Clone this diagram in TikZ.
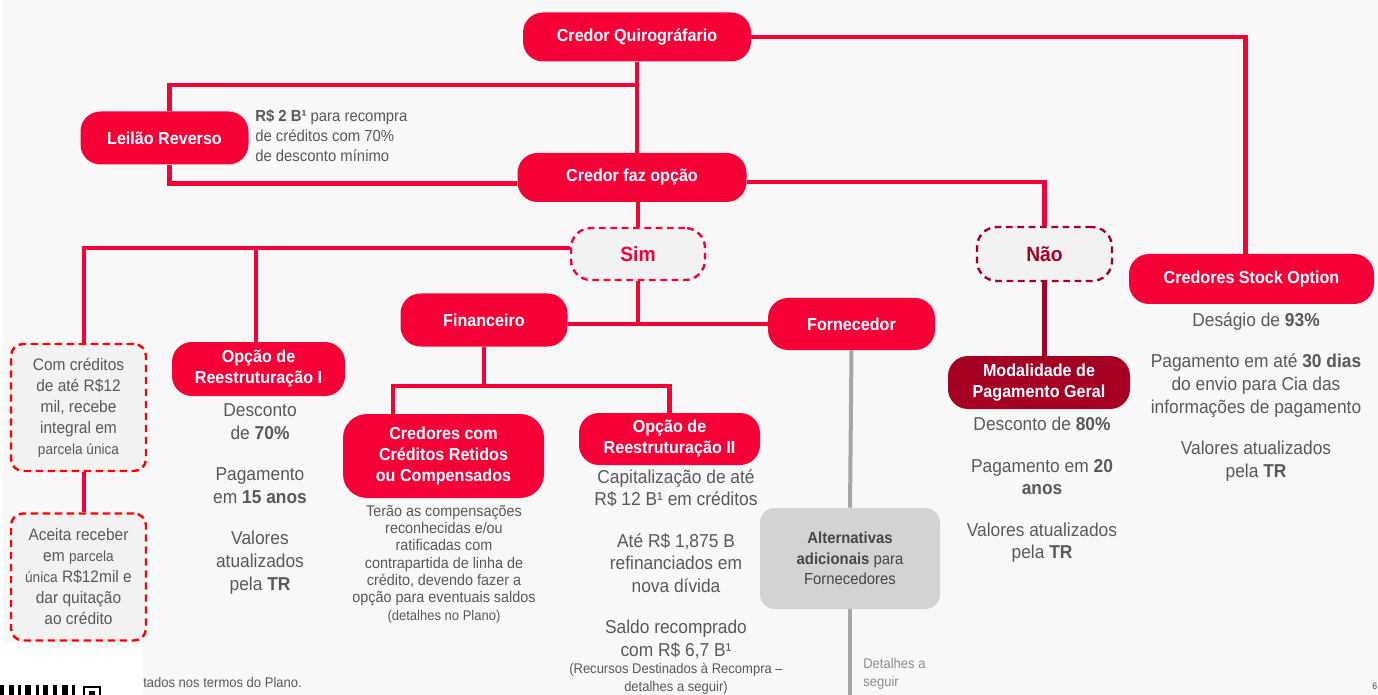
\documentclass[tikz,border=0pt]{standalone}
\usepackage{fontspec}
\setmainfont{Liberation Sans}[FakeStretch=0.93]
\usepackage{xcolor}
\usetikzlibrary{backgrounds}

\definecolor{cred}{RGB}{245,0,55}
\definecolor{cdark}{RGB}{165,0,35}
\definecolor{cbright}{RGB}{255,0,0}
\definecolor{cbg}{RGB}{248,248,248}
\definecolor{cfill}{RGB}{242,242,242}
\definecolor{calt}{RGB}{211,211,211}
\definecolor{cline}{RGB}{166,166,166}
\definecolor{cgrey}{RGB}{89,89,89}
\definecolor{cdgrey}{RGB}{70,70,70}
\definecolor{clight}{RGB}{140,140,140}

\newcommand\setfs[2]{\fontsize{#1pt}{#2pt}\selectfont}

\begin{document}
\begin{tikzpicture}[x=0.75pt, y=-0.75pt,
  redbox/.style={fill=cred, text=white, font=\setfs{13}{15.75}\bfseries, rounded corners=15pt, inner sep=0pt, align=center},
  darkbox/.style={redbox, fill=cdark},
  choice/.style={draw=cred, fill=cfill, dash pattern=on 5pt off 3.5pt, line width=1.8pt, rounded corners=15pt, text=cred, font=\setfs{15.5}{18}\bfseries, inner sep=0pt},
  tipbox/.style={draw=cbright, fill=cfill, dash pattern=on 5.5pt off 3.5pt, line width=1.8pt, rounded corners=9pt, text=cgrey, align=center, font=\setfs{12.5}{15.75}, inner sep=0pt, minimum width=101.25pt, minimum height=95.25pt},
  altbox/.style={fill=calt, rounded corners=11pt, text=cdgrey, align=center, font=\setfs{12}{15.5}, inner sep=0pt, minimum width=135pt, minimum height=75.75pt},
  desc/.style={text=cgrey, align=center, inner sep=0pt, font=\setfs{14}{17}},
  link/.style={draw=cred, line width=3.5pt},
  darklink/.style={link, draw=cdark},
  greylink/.style={draw=cline, line width=3pt}]

\useasboundingbox (0,0) rectangle (1378,695);

% top of the tree
\node (cq) at (637,37) [redbox, minimum width=171pt, minimum height=36.75pt] {Credor Quirográfario};
\node (lr) at (164.5,138) [redbox, minimum width=126pt, minimum height=39.75pt] {Leilão Reverso};
\node (lrtxt) at (255,136) [desc, anchor=west, align=left, font=\setfs{12}{15}] {\textbf{R\$ 2 B¹} para recompra\\ de créditos com 70\%\\ de desconto mínimo};
\node (cfo) at (632,177.5) [redbox, minimum width=171.75pt, minimum height=36.75pt] {Credor faz opção};

\node (sim) at (638,254) [choice, minimum width=100.5pt, minimum height=39pt] {Sim};
\node (nao) at (1044.5,254) [choice, draw=cdark, text=cdark, minimum width=101.25pt, minimum height=40.5pt] {Não};

% credores stock option
\node (cso) at (1251.5,279) [redbox, minimum width=183.75pt, minimum height=37.5pt] {Credores Stock Option};
\node (csotxt) at (1256,397) [desc] {Deságio de \textbf{93\%}\\[14pt] Pagamento em até \textbf{30 dias}\\ do envio para Cia das\\ informações de pagamento\\[14pt] Valores atualizados\\ pela \textbf{TR}};

% ramo sim
\node (fin) at (484,320) [redbox, minimum width=125.25pt, minimum height=39.75pt] {Financeiro};
\node (forn) at (851.5,324) [redbox, minimum width=125.25pt, minimum height=39pt] {Fornecedor};

\node (cc1) at (78.5,407.5) [tipbox] {Com créditos\\ de até R\$12\\ mil, recebe\\ integral em\\ {\setfs{11}{15.75}parcela única}};
\node (cc2) at (78.5,577) [tipbox] {Aceita receber\\ em {\setfs{11}{15.75}parcela}\\ {\setfs{11}{15.75}única} R\$12mil e\\ dar quitação\\ ao crédito};

\node (or1) at (258.5,369) [redbox, minimum width=129.75pt, minimum height=40.5pt] {Opção de\\ Reestruturação I};
\node (or1txt) at (260,499) [desc] {Desconto\\ de \textbf{70\%}\\[14pt] Pagamento\\ em \textbf{15 anos}\\[14pt] Valores\\ atualizados\\ pela \textbf{TR}};

\node (ccr) at (443.5,456) [redbox, rounded corners=18pt, minimum width=150.75pt, minimum height=63pt] {Credores com\\ Créditos Retidos\\ ou Compensados};
\node (ccrtxt) at (444,564) [desc, font=\setfs{11.6}{13}] {Terão as compensações\\ reconhecidas e/ou\\ ratificadas com\\ contrapartida de linha de\\ crédito, devendo fazer a\\ opção para eventuais saldos\\ {\setfs{10.5}{13}(detalhes no Plano)}};

\node (or2) at (669.5,439) [redbox, minimum width=135.75pt, minimum height=39pt] {Opção de\\ Reestruturação II};
\node (or2txt) at (676,564) [desc] {Capitalização de até\\ R\$ 12 B¹ em créditos\\[14pt] Até R\$ 1,875 B\\ refinanciados em\\ nova dívida\\[14pt] Saldo recomprado\\ com R\$ 6,7 B¹};
\node (or2note) at (676,679) [desc, font=\setfs{10.5}{13.5}] {(Recursos Destinados à Recompra –\\ detalhes a seguir)};

\node (alt) at (850,558.5) [altbox] {\textbf{Alternativas}\\ \textbf{adicionais} para\\ Fornecedores};
\node (altnote) at (863,674) [anchor=west, align=left, inner sep=0pt, text=clight, font=\setfs{10.5}{13.5}] {Detalhes a\\ seguir};

% ramo nao
\node (mpg) at (1039,382.5) [darkbox, minimum width=136.5pt, minimum height=39.75pt] {Modalidade de\\ Pagamento Geral};
\node (mpgtxt) at (1042,490) [desc] {Desconto de \textbf{80\%}\\[14pt] Pagamento em \textbf{20}\\ \textbf{anos}\\[14pt] Valores atualizados\\ pela \textbf{TR}};

% rodape
\node (foot) at (143,682) [anchor=west, inner sep=0pt, text=cgrey, font=\setfs{10.5}{12}] {tados nos termos do Plano.};
\node (pg) at (1372,686) [anchor=west, inner sep=0pt, text=cdgrey, font=\setfs{7}{8}] {6};

\coordinate (jq) at (637,85);
\coordinate (jl) at (256,248);
\coordinate (jf) at (484,386);
\coordinate (fb) at (850,695);

\begin{scope}[on background layer]
\fill[cbg] (0,0) rectangle (1378,695);
\fill[white] (0,0) rectangle (3,695);
\fill[white] (0,643) rectangle (143,695);
\foreach \qx/\qw in {0/4, 9/5, 18/3, 25/6, 36/3, 43/5, 53/4, 62/6, 72/3}
  \fill[black] (\qx,685) rectangle ++(\qw,10);
\draw[black, line width=2.2pt] (84,687) rectangle (100,699);
\fill[black] (89,691) rectangle (95,695);

\draw[link] (cq.east) -| ([xshift=-4.5pt]cso.north);
\draw[link] (cq.south) -- (cq.south |- cfo.north);
\draw[link] (jq) -| ([xshift=3.5pt]lr.north);
\draw[link] ([xshift=3.5pt]lr.south) |- ([yshift=-4.5pt]cfo.west);
\draw[link] ([yshift=-3.5pt]cfo.east) -| (nao.north);
\draw[link] (sim.north |- cfo.south) -- (sim.north);
\draw[link] ([yshift=4.5pt]sim.west) -| ([xshift=4pt]cc1.north);
\draw[link] (jl) -- (jl |- or1.north);
\draw[link] ([xshift=4pt]cc1.south) -- ([xshift=4pt]cc2.north);
\draw[link] (sim.south) -- (sim.south |- forn.west);
\draw[link] (fin.east |- forn.west) -- (forn.west);
\draw[link] (fin.south) -- (jf);
\draw[link] (jf) -| ([xshift=-38pt]ccr.north);
\draw[link] (jf) -| (or2.north);
\draw[greylink] (forn.south) -- (alt.north);
\draw[greylink] (alt.south) -- (fb);
\draw[darklink] (nao.south) -- (nao.south |- mpg.north);
\end{scope}

\end{tikzpicture}
\end{document}
